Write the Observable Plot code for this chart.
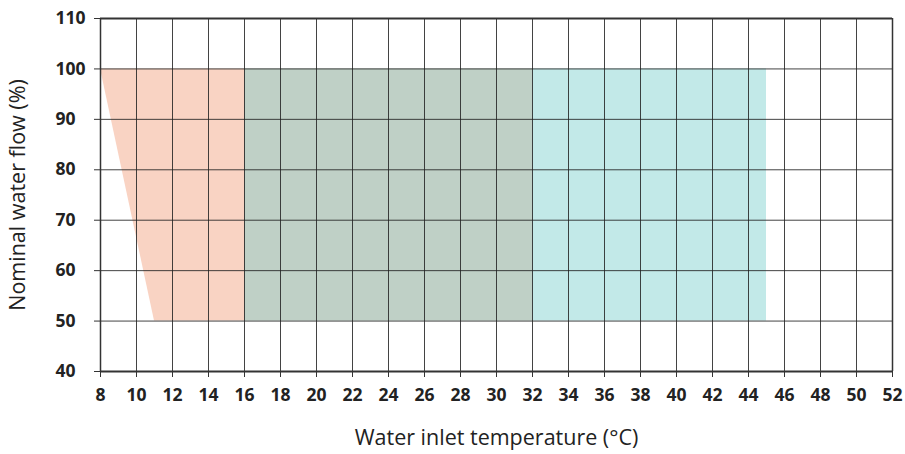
<!DOCTYPE html>
<html><head><meta charset="utf-8">
<script src="https://cdn.jsdelivr.net/npm/d3@7"></script>
<script src="https://cdn.jsdelivr.net/npm/@observablehq/plot@0.6"></script>
<style>body{margin:0;background:#fff;} svg{display:block;}</style>
</head><body><div id="chart"></div>
<script>
const xTicks = [8,10,12,14,16,18,20,22,24,26,28,30,32,34,36,38,40,42,44,46,48,50,52];
const yTicks = [40,50,60,70,80,90,100,110];
const xTitle = "Water inlet temperature (°C)";
const yTitle = "Nominal water flow (%)";
// low-temperature zone: left edge slants from (11,50) to (8,100)
const lowZoneY = [50, 100];
const lowZoneLeft = [11, 8];
const lowZoneRight = [16, 16];
// rectangular zones
const zoneX1 = [16, 32];
const zoneX2 = [32, 45];
const zoneY1 = [50, 50];
const zoneY2 = [100, 100];
const zoneColors = ["#bfd0c6", "#c2e9e8"];
const lowColor = "#f9d3c3";

const lowData = lowZoneY.map((y,i)=>({y, x1: lowZoneLeft[i], x2: lowZoneRight[i]}));
const rects = zoneX1.map((x1,i)=>({x1, x2: zoneX2[i], y1: zoneY1[i], y2: zoneY2[i], c: zoneColors[i]}));

const chart = Plot.plot({
  width: 905, height: 454,
  marginLeft: 100, marginRight: 13, marginTop: 18, marginBottom: 83,
  style: {fontFamily: "'Open Sans', sans-serif", color: "#222", background: "#fff"},
  x: {domain: [8,52], ticks: xTicks},
  y: {domain: [40,110], ticks: yTicks},
  marks: [
    Plot.areaX(lowData, {y: "y", x1: "x1", x2: "x2", fill: lowColor}),
    Plot.rect(rects, {x1: "x1", x2: "x2", y1: "y1", y2: "y2", fill: "c"}),
    Plot.gridX(xTicks, {stroke: "#222", strokeOpacity: 0.85, strokeWidth: 1}),
    Plot.gridY(yTicks, {stroke: "#222", strokeOpacity: 0.85, strokeWidth: 1}),
    Plot.ruleY([40, 110], {stroke: "#333", strokeWidth: 2}),
    Plot.ruleX([8, 52], {stroke: "#333", strokeWidth: 1.5}),
    Plot.axisX(xTicks, {tickSize: 6, stroke: "#333", tickFormat: () => "", label: null}),
    Plot.axisY(yTicks, {tickSize: 6, stroke: "#333", tickFormat: () => "", label: null}),
    Plot.text(xTicks, {x: d => d, text: d => String(d), frameAnchor: "bottom", lineAnchor: "middle", textAnchor: "middle", dy: 24, fontSize: 17.5, fontWeight: "bold", fill: "#222"}),
    Plot.text(yTicks, {y: d => d, text: d => String(d), frameAnchor: "left", lineAnchor: "middle", textAnchor: "start", dx: -45, fontSize: 17.5, fontWeight: "bold", fill: "#222"}),
    Plot.text([xTitle], {text: d => d, frameAnchor: "bottom", lineAnchor: "middle", textAnchor: "middle", dy: 67, fontSize: 21.5, fill: "#222"}),
    Plot.text([yTitle], {text: d => d, frameAnchor: "left", lineAnchor: "middle", textAnchor: "middle", dx: -82, rotate: -90, fontSize: 21.5, fill: "#222"})
  ]
});
document.getElementById("chart").append(chart);
</script>
</body></html>
